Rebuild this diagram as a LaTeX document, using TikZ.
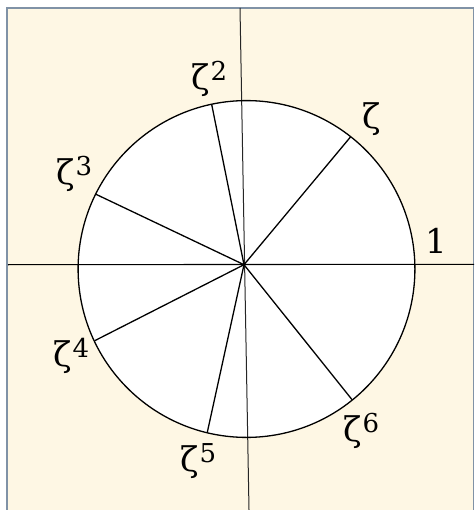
\documentclass[tikz,border=0pt]{standalone}
\usepackage{fontspec}
\setmainfont{DejaVu Serif}
\definecolor{cream}{RGB}{254,247,228}
\definecolor{frame}{RGB}{128,146,166}
\newcommand\lblfont{\fontsize{34}{40}\selectfont}
\newcommand\zpow[1]{ζ\kern1pt\raisebox{9pt}{\fontsize{26}{26}\selectfont #1}}
\begin{document}
\begin{tikzpicture}[x=1pt,y=-1pt,
  lbl/.style={inner sep=0pt,anchor=base west,font=\lblfont},
  ray/.style={line width=1.3pt,black},
  axis/.style={line width=1.1pt,black}]
\useasboundingbox (0,0) rectangle (474,510);
\fill[cream] (7,8) rectangle (474,510);
\draw[frame,line width=1.8pt] (7,512) -- (7,8) -- (473.5,8) -- (473.5,512);
% circle
\coordinate (C) at (246.5,269);
\fill[white] (C) circle[radius=168.4];
% axes
\coordinate (hl) at (8,264.7);
\coordinate (hr) at (474,264.3);
\coordinate (vt) at (240,8);
\coordinate (vb) at (249,510);
\draw[axis] (hl) -- (hr);
\draw[line width=1pt,black!85] (vt) -- (vb);
% rays
\coordinate (O) at (244,264.7);
\coordinate (p1) at (350.7,136.7);
\coordinate (p2) at (211.7,104.5);
\coordinate (p3) at (96,194.3);
\coordinate (p4) at (94.7,340.7);
\coordinate (p5) at (207.3,432.3);
\coordinate (p6) at (352.3,400);
\foreach \p in {p1,p2,p3,p4,p5,p6} \draw[ray] (O) -- (\p);
\draw[line width=1.3pt] (C) circle[radius=168.4];
% labels
\node[lbl] (l0) at (425,253) {1};
\node[lbl] (l1) at (362,129) {ζ};
\node[lbl] (l2) at (191,90) {\zpow{2}};
\node[lbl] (l3) at (56,185) {\zpow{3}};
\node[lbl] (l4) at (53,366) {\zpow{4}};
\node[lbl] (l5) at (180,471) {\zpow{5}};
\node[lbl] (l6) at (343,441) {\zpow{6}};
\end{tikzpicture}
\end{document}
